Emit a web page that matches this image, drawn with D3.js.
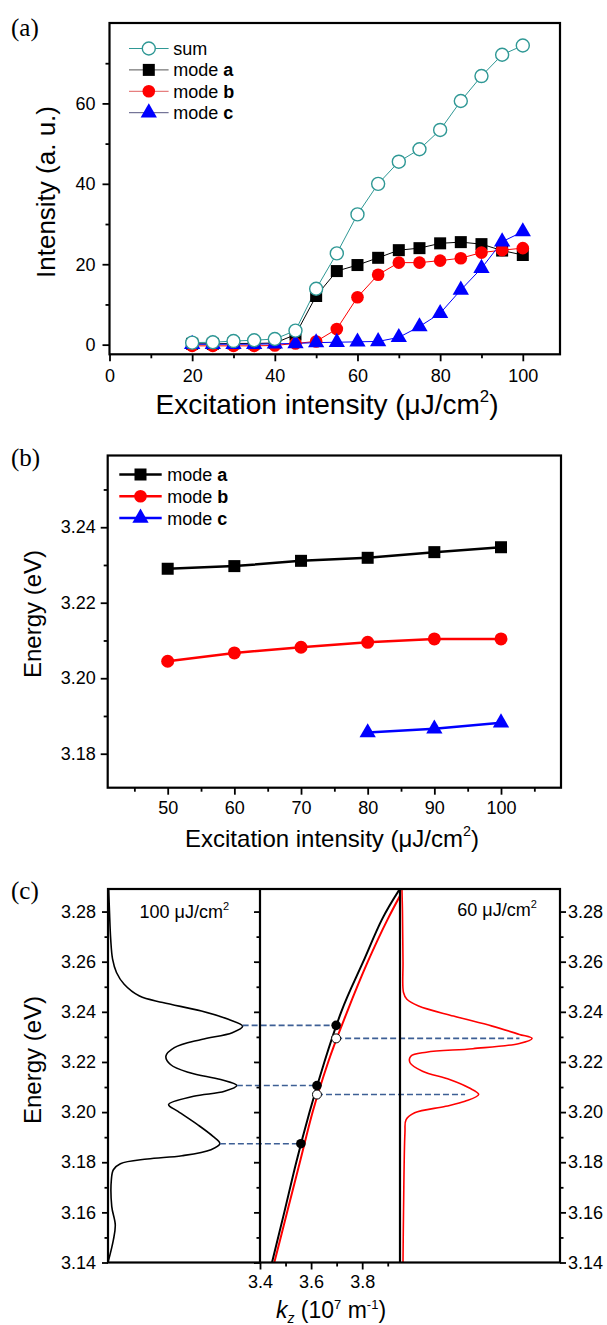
<!DOCTYPE html>
<html><head><meta charset="utf-8">
<script src="https://cdn.jsdelivr.net/npm/d3@7"></script>
<style>
body{margin:0;background:#fff;}
svg{display:block;}
</style></head><body>
<svg id="chart" width="607" height="1325"></svg>
<script>
// ---------------- DATA ----------------
// panel (a)
const excitationA = [20,25,30,35,40,45,50,55,60,65,70,75,80,85,90,95,100];
const sumA   = [0.5,0.6,0.9,1.1,1.4,3.5,13.9,22.7,32.4,40.0,45.5,48.6,53.4,60.6,66.8,72.1,74.4];
const modeAa = [0.2,0.2,0.3,0.3,0.4,2.5,12.1,18.3,19.8,21.6,23.5,24.0,25.2,25.5,25.0,23.4,22.3];
const modeAb = [-0.3,-0.3,-0.3,-0.3,-0.2,0.3,0.8,3.9,11.8,17.4,20.4,20.4,20.9,21.5,22.9,23.5,24.0];
const modeAc = [0.1,0.1,0.1,0.1,0.2,0.3,0.5,0.6,0.7,0.8,1.8,4.5,7.8,13.6,19.0,25.6,28.1];
const xTicksA = [0,20,40,60,80,100], xMinorA = [10,30,50,70,90];
const yTicksA = [0,20,40,60], yMinorA = [10,30,50,70];

// panel (b)
const excitationB = [50,60,70,80,90,100];
const energyBa = [3.2290,3.2297,3.2311,3.2319,3.2334,3.2347];
const energyBb = [3.2045,3.2067,3.2082,3.2095,3.2104,3.2104];
const excitationBc = [80,90,100];
const energyBc = [3.1856,3.1866,3.1882];
const xTicksB = [50,60,70,80,90,100], xMinorB = [45,55,65,75,85,95,105];
const yTicksB = [3.18,3.20,3.22,3.24], yMinorB = [3.19,3.21,3.23,3.25];

// panel (c)
const yTicksC = [3.14,3.16,3.18,3.20,3.22,3.24,3.26,3.28];
const yMinorC = [3.15,3.17,3.19,3.21,3.23,3.25,3.27];
const kTicks = [3.4,3.6,3.8], kMinor = [3.5,3.7,3.9];
// spectrum at 100 uJ/cm2 (energy, intensity)
const spec100E = [3.289,3.28,3.269,3.261,3.2557,3.251,3.2463,3.2437,3.2403,3.237,3.2343,3.2317,3.229,3.2257,3.2223,3.219,3.2157,3.213,3.2106,3.2083,3.2063,3.203,3.2003,3.195,3.1903,3.1874,3.185,3.1826,3.1813,3.1794,3.177,3.173,3.1623,3.155,3.149,3.14];
const spec100I = [0.005,0.011,0.02,0.034,0.063,0.12,0.234,0.407,0.694,0.894,1.0,0.923,0.694,0.493,0.43,0.464,0.608,0.837,0.957,0.866,0.636,0.45,0.52,0.665,0.78,0.831,0.765,0.55,0.292,0.092,0.04,0.025,0.028,0.054,0.04,0.0];
// spectrum at 60 uJ/cm2
const spec60E = [3.289,3.28,3.26,3.2477,3.245,3.2423,3.2383,3.2343,3.231,3.2294,3.2274,3.2253,3.2239,3.2223,3.2197,3.2163,3.213,3.2097,3.207,3.2043,3.2023,3.1997,3.197,3.1917,3.16,3.14];
const spec60I = [0.0,0.004,0.008,0.012,0.038,0.128,0.396,0.694,0.903,1.0,0.903,0.545,0.188,0.068,0.062,0.158,0.366,0.515,0.59,0.485,0.336,0.098,0.032,0.023,0.012,0.008];
// dispersion curves (kz, energy)
const dispBlackK = [3.447,3.495,3.542,3.594,3.652,3.718,3.804,3.878,3.947];
const dispBlackE = [3.14,3.16,3.18,3.20,3.22,3.24,3.26,3.277,3.289];
const dispRedK = [3.456,3.506,3.556,3.606,3.667,3.741,3.822,3.90,3.948];
const dispRedE = [3.14,3.16,3.18,3.20,3.22,3.24,3.26,3.277,3.2863];
// mode positions at 100 uJ/cm2 (black) and 60 uJ/cm2 (white)
const dotsBlackK = [3.56,3.623,3.698], dotsBlackE = [3.1874,3.2106,3.2346];
const peak100I = [0.831,0.957,1.0];
const dotsWhiteK = [3.623,3.698], dotsWhiteE = [3.207,3.2294];
const peak60I = [0.485,0.903];

// ---------------- DRAWING ----------------
const FONT = '"Liberation Sans", Arial, Helvetica, sans-serif';
const svg = d3.select("#chart").attr("font-family", FONT);
const TEAL = "#2f9895", RED = "#ff0000", BLUE = "#0000ff";

function styleAxis(g){
  g.select(".domain").remove();
  g.selectAll("line").attr("stroke","#000").attr("stroke-width",1.8);
  g.selectAll("text").attr("font-size",18).attr("fill","#000").attr("font-family",FONT);
}
function axisPair(gen, minorGen, tx, ty){
  svg.append("g").attr("transform",`translate(${tx},${ty})`).call(gen).call(styleAxis);
  if (minorGen) svg.append("g").attr("transform",`translate(${tx},${ty})`).call(minorGen).call(styleAxis);
}
function box(l,t,r,b){
  svg.append("rect").attr("x",l).attr("y",t).attr("width",r-l).attr("height",b-t)
    .attr("fill","none").attr("stroke","#000").attr("stroke-width",2.2);
}
function panelLabel(txt,x,y){
  svg.append("text").attr("x",x).attr("y",y).attr("font-family",'"Liberation Serif","Times New Roman",serif')
    .attr("font-size",25).text(txt);
}
function excTitle(x,y,fs){
  const t = svg.append("text").attr("x",x).attr("y",y).attr("text-anchor","middle").attr("font-size",fs);
  t.append("tspan").text("Excitation intensity (\u03BCJ/cm");
  t.append("tspan").attr("font-size",fs*0.6).attr("dy",-fs*0.42).text("2");
  t.append("tspan").attr("dy",fs*0.42).text(")");
}
function yTitle(txt,cx,cy,fs){
  svg.append("text").attr("transform",`translate(${cx},${cy}) rotate(-90)`).attr("text-anchor","middle")
    .attr("font-size",fs).text(txt);
}
function marker(g, type, x, y, color, hollow, size){
  if (type==="circle") {
    g.append("circle").attr("cx",x).attr("cy",y).attr("r",size)
      .attr("fill",hollow?"#fff":color).attr("stroke",color).attr("stroke-width",hollow?1.4:0);
  } else if (type==="square") {
    g.append("rect").attr("x",x-size).attr("y",y-size).attr("width",2*size).attr("height",2*size).attr("fill",color);
  } else {
    g.append("path").attr("d",d3.symbol(d3.symbolTriangle).size(size)()).attr("transform",`translate(${x},${y})`).attr("fill",color);
  }
}
function legendRow(x1,x2,xt,y,type,color,hollow,size,lw,lineColor,name,bold){
  const g = svg.append("g");
  g.append("line").attr("x1",x1).attr("x2",x2).attr("y1",y).attr("y2",y).attr("stroke",lineColor).attr("stroke-width",lw);
  marker(g,type,(x1+x2)/2,y,color,hollow,size);
  const t = g.append("text").attr("x",xt).attr("y",y+6.5).attr("font-size",18);
  t.append("tspan").text(name);
  if (bold) t.append("tspan").attr("font-weight","bold").text(bold);
}

// ===== panel (a) =====
const A = {l:109.5, r:560, t:23, b:354.3};
const xA = d3.scaleLinear().domain([0,109]).range([A.l,A.r]);
const yA = d3.scaleLinear().domain([-2.4,80]).range([A.b,A.t]);
axisPair(d3.axisBottom(xA).tickValues(xTicksA).tickSize(7).tickPadding(8).tickSizeOuter(0),
         d3.axisBottom(xA).tickValues(xMinorA).tickSize(4).tickFormat("").tickSizeOuter(0), 0, A.b);
axisPair(d3.axisLeft(yA).tickValues(yTicksA).tickSize(7).tickPadding(7).tickSizeOuter(0),
         d3.axisLeft(yA).tickValues(yMinorA).tickSize(4).tickFormat("").tickSizeOuter(0), A.l, 0);

const seriesA = [
  {vals:modeAa, color:"#000", type:"square", hollow:false, size:6},
  {vals:modeAb, color:RED, type:"circle", hollow:false, size:6.3},
  {vals:modeAc, color:BLUE, type:"tri", hollow:false, size:115},
  {vals:sumA, color:TEAL, type:"circle", hollow:true, size:6.5}
];
const lineA = d3.line().x(d=>xA(d[0])).y(d=>yA(d[1]));
seriesA.forEach(s=>{
  const pts = excitationA.map((x,i)=>[x,s.vals[i]]);
  svg.append("path").attr("d",lineA(pts)).attr("fill","none").attr("stroke",s.color).attr("stroke-width",1);
});
seriesA.forEach(s=>{
  const g = svg.append("g");
  excitationA.forEach((x,i)=>marker(g,s.type,xA(x),yA(s.vals[i]),s.color,s.hollow,s.size));
});
box(A.l,A.t,A.r,A.b);
legendRow(129,168.6,173.3,48.5,"circle",TEAL,true,6.5,1,TEAL,"sum",null);
legendRow(129,168.6,173.3,69.9,"square","#000",false,6,1,"#555","mode ","a");
legendRow(129,168.6,173.3,91.3,"circle",RED,false,6.3,1,"#e06060","mode ","b");
legendRow(129,168.6,173.3,112.7,"tri",BLUE,false,115,1,"#555580","mode ","c");
excTitle(327,414,28);
yTitle("Intensity (a. u.)",55,192,26);
panelLabel("(a)",11,36);

// ===== panel (b) =====
const B = {l:107.7, r:561, t:455.5, b:787.7};
const xB = d3.scaleLinear().domain([41,109]).range([B.l,B.r]);
const yB = d3.scaleLinear().domain([3.171,3.259]).range([B.b,B.t]);
axisPair(d3.axisBottom(xB).tickValues(xTicksB).tickSize(7).tickPadding(7).tickSizeOuter(0),
         d3.axisBottom(xB).tickValues(xMinorB).tickSize(4).tickFormat("").tickSizeOuter(0), 0, B.b);
axisPair(d3.axisLeft(yB).tickValues(yTicksB).tickSize(7).tickPadding(5).tickFormat(d3.format(".2f")).tickSizeOuter(0),
         d3.axisLeft(yB).tickValues(yMinorB).tickSize(4).tickFormat("").tickSizeOuter(0), B.l, 0);
const lineB = d3.line().x(d=>xB(d[0])).y(d=>yB(d[1]));
const seriesB = [
  {xs:excitationB, vals:energyBa, color:"#000", type:"square", size:6},
  {xs:excitationB, vals:energyBb, color:RED, type:"circle", size:6.5},
  {xs:excitationBc, vals:energyBc, color:BLUE, type:"tri", size:115}
];
seriesB.forEach(s=>{
  svg.append("path").attr("d",lineB(s.xs.map((x,i)=>[x,s.vals[i]]))).attr("fill","none")
    .attr("stroke",s.color).attr("stroke-width",2.5);
  const g = svg.append("g");
  s.xs.forEach((x,i)=>marker(g,s.type,xB(x),yB(s.vals[i]),s.color,false,s.size));
});
box(B.l,B.t,B.r,B.b);
legendRow(119.3,161.7,167.3,474.5,"square","#000",false,6,2.5,"#000","mode ","a");
legendRow(119.3,161.7,167.3,496.3,"circle",RED,false,6.3,2.5,RED,"mode ","b");
legendRow(119.3,161.7,167.3,518,"tri",BLUE,false,115,2.5,BLUE,"mode ","c");
excTitle(332,846.5,24);
yTitle("Energy (eV)",41,614,24);
panelLabel("(b)",11,466);

// ===== panel (c) =====
const C = {l:108, d1:260, d2:400, r:560, t:889, b:1262.5};
const yC = d3.scaleLinear().domain([3.14,3.289]).range([C.b,C.t]);
const xL = d3.scaleLinear().domain([0,1.129]).range([C.l,C.d1]);
const xM = d3.scaleLinear().domain([3.4,3.948]).range([C.d1,C.d2]);
const xR = d3.scaleLinear().domain([-0.015,1.215]).range([C.d2,C.r]);

const defs = svg.append("defs");
defs.append("clipPath").attr("id","clipL").append("rect").attr("x",C.l).attr("y",C.t).attr("width",C.d1-C.l).attr("height",C.b-C.t);
defs.append("clipPath").attr("id","clipM").append("rect").attr("x",C.d1).attr("y",C.t).attr("width",C.d2-C.d1).attr("height",C.b-C.t);
defs.append("clipPath").attr("id","clipR").append("rect").attr("x",C.d2).attr("y",C.t).attr("width",C.r-C.d2).attr("height",C.b-C.t);

// axes
axisPair(d3.axisLeft(yC).tickValues(yTicksC).tickSize(6).tickPadding(6).tickFormat(d3.format(".2f")).tickSizeOuter(0),
         d3.axisLeft(yC).tickValues(yMinorC).tickSize(3.5).tickFormat("").tickSizeOuter(0), C.l, 0);
axisPair(d3.axisLeft(yC).tickValues(yTicksC).tickSize(6).tickFormat("").tickSizeOuter(0),
         d3.axisLeft(yC).tickValues(yMinorC).tickSize(3.5).tickFormat("").tickSizeOuter(0), C.d1, 0);
axisPair(d3.axisRight(yC).tickValues(yTicksC).tickSize(6).tickPadding(2).tickFormat(d3.format(".2f")).tickSizeOuter(0),
         d3.axisRight(yC).tickValues(yMinorC).tickSize(3.5).tickFormat("").tickSizeOuter(0), C.r, 0);
axisPair(d3.axisBottom(xM).tickValues(kTicks).tickSize(7).tickPadding(6).tickFormat(d3.format(".1f")).tickSizeOuter(0),
         d3.axisBottom(xM).tickValues(kMinor).tickSize(4).tickFormat("").tickSizeOuter(0), 0, C.b);

// spectra
const specLine = d3.curveCatmullRom.alpha(0.5);
svg.append("path").attr("clip-path","url(#clipL)")
  .attr("d", d3.line().curve(specLine).x(d=>xL(d[1])).y(d=>yC(d[0]))(spec100E.map((e,i)=>[e,spec100I[i]])))
  .attr("fill","none").attr("stroke","#000").attr("stroke-width",1.6);
svg.append("path").attr("clip-path","url(#clipR)")
  .attr("d", d3.line().curve(specLine).x(d=>xR(d[1])).y(d=>yC(d[0]))(spec60E.map((e,i)=>[e,spec60I[i]])))
  .attr("fill","none").attr("stroke",RED).attr("stroke-width",1.6);

// dispersion
const dispLine = d3.line().curve(d3.curveMonotoneX).x(d=>xM(d[0])).y(d=>yC(d[1]));
svg.append("path").attr("clip-path","url(#clipM)").attr("d",dispLine(dispRedK.map((k,i)=>[k,dispRedE[i]])))
  .attr("fill","none").attr("stroke",RED).attr("stroke-width",2);
svg.append("path").attr("clip-path","url(#clipM)").attr("d",dispLine(dispBlackK.map((k,i)=>[k,dispBlackE[i]])))
  .attr("fill","none").attr("stroke","#000").attr("stroke-width",2);

// dashed connectors
const DASH = "#3d5f95";
dotsBlackE.forEach((e,i)=>{
  svg.append("line").attr("x1",xL(peak100I[i])).attr("x2",xM(dotsBlackK[i])).attr("y1",yC(e)).attr("y2",yC(e))
    .attr("stroke",DASH).attr("stroke-width",1.6).attr("stroke-dasharray","6,3");
});
dotsWhiteE.forEach((e,i)=>{
  svg.append("line").attr("x1",xM(dotsWhiteK[i])).attr("x2",xR(peak60I[i])).attr("y1",yC(e)).attr("y2",yC(e))
    .attr("stroke",DASH).attr("stroke-width",1.6).attr("stroke-dasharray","6,3");
});
dotsBlackE.forEach((e,i)=>{
  svg.append("circle").attr("cx",xM(dotsBlackK[i])).attr("cy",yC(e)).attr("r",4.8).attr("fill","#000");
});
dotsWhiteE.forEach((e,i)=>{
  svg.append("circle").attr("cx",xM(dotsWhiteK[i])).attr("cy",yC(e)).attr("r",4.5).attr("fill","#fff").attr("stroke","#000").attr("stroke-width",1);
});

// frame
box(C.l,C.t,C.r,C.b);
[C.d1,C.d2].forEach(x=>svg.append("line").attr("x1",x).attr("x2",x).attr("y1",C.t).attr("y2",C.b).attr("stroke","#000").attr("stroke-width",2.2));

// labels
function doseLabel(txt,x,y){
  const t = svg.append("text").attr("x",x).attr("y",y).attr("font-size",18);
  t.append("tspan").text(txt+" \u03BCJ/cm");
  t.append("tspan").attr("font-size",11).attr("dy",-8).text("2");
}
doseLabel("100",139.5,918);
doseLabel("60",457.3,916);

const kt = svg.append("text").attr("x",331).attr("y",1318).attr("text-anchor","middle").attr("font-size",23);
kt.append("tspan").attr("font-style","italic").text("k");
kt.append("tspan").attr("font-style","italic").attr("font-size",14).attr("dy",5).text("z");
kt.append("tspan").attr("dy",-5).text(" (10");
kt.append("tspan").attr("font-size",13).attr("dy",-9).text("7");
kt.append("tspan").attr("dy",9).text(" m");
kt.append("tspan").attr("font-size",13).attr("dy",-9).text("-1");
kt.append("tspan").attr("dy",9).text(")");
yTitle("Energy (eV)",41,1060,24);
panelLabel("(c)",11,899);
</script>
</body></html>
